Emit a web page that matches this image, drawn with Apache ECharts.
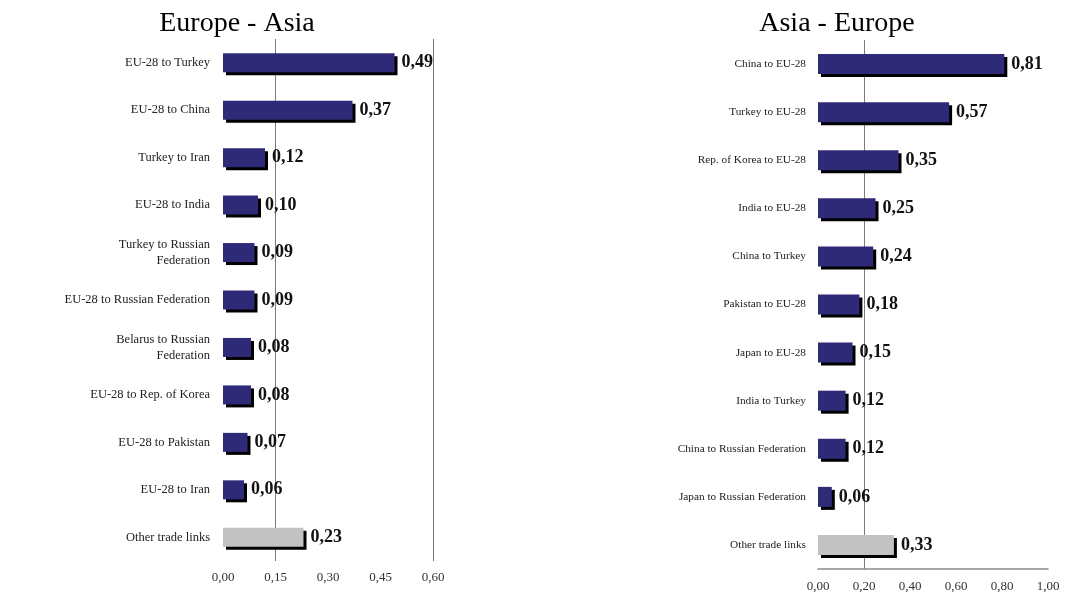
<!DOCTYPE html>
<html><head><meta charset="utf-8">
<script src="https://cdn.jsdelivr.net/npm/echarts@6/dist/echarts.min.js"></script>
<style>html,body{margin:0;padding:0;background:#fff}#c{width:1067px;height:599px}</style>
</head><body><div id="c"></div>
<script>
const leftTitle = 'Europe - Asia';
const rightTitle = 'Asia - Europe';
const leftCategories = ['EU-28 to Turkey','EU-28 to China','Turkey to Iran','EU-28 to India','Turkey to Russian\nFederation','EU-28 to Russian Federation','Belarus to Russian\nFederation','EU-28 to Rep. of Korea','EU-28 to Pakistan','EU-28 to Iran','Other trade links'];
const leftValues = [0.49,0.37,0.12,0.10,0.09,0.09,0.08,0.08,0.07,0.06,0.23];
const rightCategories = ['China to EU-28','Turkey to EU-28','Rep. of Korea to EU-28','India to EU-28','China to Turkey','Pakistan to EU-28','Japan to EU-28','India to Turkey','China to Russian Federation','Japan to Russian Federation','Other trade links'];
const rightValues = [0.81,0.57,0.35,0.25,0.24,0.18,0.15,0.12,0.12,0.06,0.33];
const leftTicks = {min:0, max:0.6, interval:0.15};
const rightTicks = {min:0, max:1.0, interval:0.2};

const NAVY = '#2e2a78', GRAY = '#c2c2c2', SERIF = 'Liberation Serif';
const fmt = v => v.toFixed(2).replace('.', ',');
function barData(vals){
  return vals.map((v,i)=>({value:v, itemStyle:{color: i===vals.length-1 ? GRAY : NAVY}}));
}
const T = 'rgba(0,0,0,0)';
const chart = echarts.init(document.getElementById('c'));
chart.setOption({
  animation:false,
  title:[
    {text:leftTitle, left:232, top:5, textAlign:'center', textStyle:{fontFamily:SERIF, fontWeight:'normal', fontSize:28, color:'#000'}},
    {text:rightTitle, left:832, top:5, textAlign:'center', textStyle:{fontFamily:SERIF, fontWeight:'normal', fontSize:28, color:'#000'}}
  ],
  grid:[
    {left:223, top:39, width:210, height:522},
    {left:818, top:40, width:230, height:529}
  ],
  xAxis:[
    {gridIndex:0, type:'value', min:leftTicks.min, max:leftTicks.max, interval:leftTicks.interval,
     axisLine:{show:false}, axisTick:{show:false},
     splitLine:{show:true, lineStyle:{color:[T,'#7a7a7a',T,T,'#7a7a7a'], width:1}},
     axisLabel:{formatter:fmt, fontFamily:SERIF, fontSize:13, color:'#333', margin:10}},
    {gridIndex:1, type:'value', min:rightTicks.min, max:rightTicks.max, interval:rightTicks.interval,
     axisLine:{show:true, lineStyle:{color:'#8a8a8a', width:1.5}}, axisTick:{show:false},
     splitLine:{show:true, lineStyle:{color:[T,'#7a7a7a',T,T,T,T], width:1}},
     axisLabel:{formatter:fmt, fontFamily:SERIF, fontSize:13, color:'#333', margin:11}}
  ],
  yAxis:[
    {gridIndex:0, type:'category', data:leftCategories, inverse:true,
     axisLine:{show:false}, axisTick:{show:false},
     axisLabel:{fontFamily:SERIF, fontSize:12.5, color:'#222', margin:13, lineHeight:16, align:'right'}},
    {gridIndex:1, type:'category', data:rightCategories, inverse:true,
     axisLine:{show:false}, axisTick:{show:false},
     axisLabel:{fontFamily:SERIF, fontSize:11.3, color:'#222', margin:12, lineHeight:15, align:'right'}}
  ],
  series:[
    {type:'bar', xAxisIndex:0, yAxisIndex:0, data:barData(leftValues), barWidth:19,
     itemStyle:{shadowColor:'#000', shadowOffsetX:3, shadowOffsetY:3, shadowBlur:0},
     label:{show:true, position:'right', distance:7, formatter:p=>fmt(p.value), fontFamily:SERIF, fontWeight:'bold', fontSize:18, color:'#111'}},
    {type:'bar', xAxisIndex:1, yAxisIndex:1, data:barData(rightValues), barWidth:20,
     itemStyle:{shadowColor:'#000', shadowOffsetX:3, shadowOffsetY:3, shadowBlur:0},
     label:{show:true, position:'right', distance:7, formatter:p=>fmt(p.value), fontFamily:SERIF, fontWeight:'bold', fontSize:18, color:'#111'}}
  ]
});
</script></body></html>
